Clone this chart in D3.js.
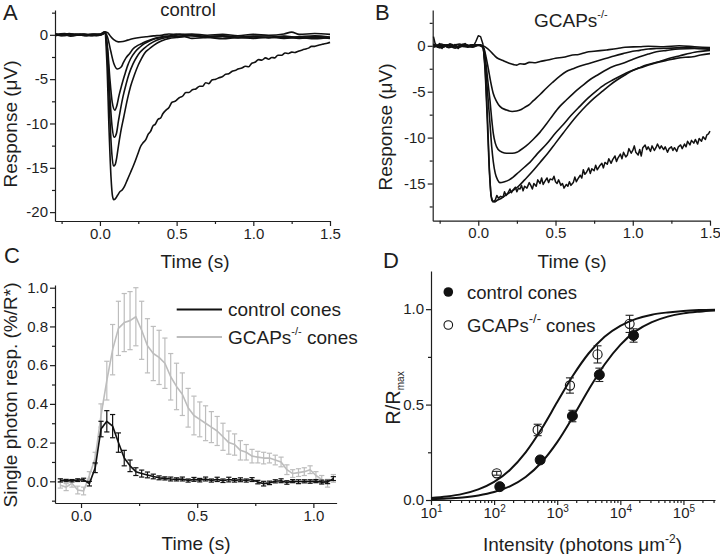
<!DOCTYPE html>
<html><head><meta charset="utf-8">
<script src="https://cdn.jsdelivr.net/npm/d3@7"></script>
<style>body{margin:0;background:#fff}svg{display:block}</style>
</head><body>
<svg id="c" width="720" height="554"></svg>
<script>
// ---------- Panel A: control traces [time s, response µV] ----------
const traceA1 = [[-0.29,0.1],[-0.25,-0.1],[-0.2,0.15],[-0.15,-0.05],[-0.1,0.1],[-0.05,-0.1],[0,0.05],[0.03,0.35],[0.05,0.25],[0.07,-0.2],[0.09,-0.55],[0.12,-0.8],[0.15,-0.75],[0.18,-0.6],[0.22,-0.42],[0.26,-0.3],[0.3,-0.22],[0.35,-0.12],[0.4,-0.05],[0.45,0.1],[0.5,0.0],[0.6,0.1],[0.7,-0.05],[0.8,0.05],[0.9,-0.1],[1.0,0.05],[1.1,-0.05],[1.2,0.1],[1.25,0.3],[1.3,0.05],[1.4,0.15],[1.5,0.05]];
const traceA2 = [[-0.29,-0.1],[-0.24,0.05],[-0.19,-0.15],[-0.14,0.05],[-0.09,-0.1],[-0.04,0.1],[0,0],[0.03,0.3],[0.05,-0.3],[0.07,-1.8],[0.09,-3.2],[0.115,-3.85],[0.14,-3.6],[0.151,-3.2],[0.17,-2.6],[0.194,-2.1],[0.215,-1.6],[0.237,-1.3],[0.27,-1.0],[0.3,-0.75],[0.34,-0.5],[0.388,-0.28],[0.45,-0.15],[0.5,-0.2],[0.6,-0.1],[0.7,-0.25],[0.8,-0.15],[0.9,-0.3],[1.0,-0.2],[1.1,-0.3],[1.2,-0.15],[1.3,-0.3],[1.4,-0.2],[1.5,-0.35]];
const traceA3 = [[-0.29,0.05],[-0.23,-0.1],[-0.18,0.1],[-0.12,-0.05],[-0.07,0.05],[-0.02,-0.1],[0.02,0.1],[0.035,0.2],[0.05,-1.5],[0.065,-5],[0.08,-7.6],[0.097,-8.5],[0.11,-8.0],[0.125,-6.8],[0.14,-5.8],[0.16,-4.6],[0.18,-3.5],[0.2,-2.7],[0.23,-1.9],[0.26,-1.4],[0.29,-1.0],[0.323,-0.7],[0.36,-0.45],[0.409,-0.26],[0.46,-0.1],[0.5,0.1],[0.55,-0.05],[0.6,0.0],[0.7,-0.2],[0.8,-0.1],[0.9,-0.25],[1.0,-0.15],[1.1,-0.1],[1.2,-0.3],[1.3,-0.2],[1.4,-0.1],[1.5,-0.25]];
const traceA4 = [[-0.29,0],[-0.22,0.1],[-0.17,-0.1],[-0.11,0.1],[-0.06,-0.1],[-0.01,0.05],[0.02,0.1],[0.035,0.2],[0.05,-2],[0.065,-7],[0.08,-10.5],[0.093,-11.55],[0.108,-11.1],[0.12,-9.8],[0.134,-8.4],[0.15,-7.0],[0.17,-5.6],[0.19,-4.4],[0.215,-3.3],[0.24,-2.5],[0.26,-2.0],[0.29,-1.5],[0.323,-1.05],[0.37,-0.6],[0.43,-0.3],[0.48,-0.15],[0.52,0.05],[0.6,-0.1],[0.7,-0.3],[0.8,-0.2],[0.9,-0.35],[1.0,-0.25],[1.1,-0.35],[1.2,-0.2],[1.3,-0.4],[1.4,-0.3],[1.5,-0.4]];
const traceA5 = [[-0.29,0.1],[-0.21,-0.05],[-0.16,0.1],[-0.1,-0.1],[-0.05,0.1],[0,-0.05],[0.02,0.1],[0.035,0.3],[0.05,-3],[0.065,-9.5],[0.078,-13.5],[0.088,-14.8],[0.1,-14.6],[0.11,-13.8],[0.12,-12.6],[0.135,-11.0],[0.155,-9.3],[0.18,-7.2],[0.2,-5.8],[0.225,-4.5],[0.25,-3.4],[0.27,-2.7],[0.29,-2.1],[0.32,-1.6],[0.355,-1.13],[0.4,-0.7],[0.452,-0.4],[0.5,-0.3],[0.55,-0.2],[0.6,-0.4],[0.7,-0.3],[0.8,-0.45],[0.9,-0.3],[1.0,-0.4],[1.1,-0.25],[1.2,-0.4],[1.3,-0.3],[1.4,-0.45],[1.5,-0.3]];
const traceA6 = [[-0.29,0],[-0.23,0.15],[-0.18,-0.05],[-0.13,0.1],[-0.08,-0.1],[-0.03,0.05],[0.01,0.1],[0.03,0.3],[0.045,-3],[0.06,-11],[0.072,-16],[0.082,-18.2],[0.09,-18.6],[0.1,-18.5],[0.115,-18.1],[0.13,-17.7],[0.145,-17.5],[0.16,-17.1],[0.18,-16.3],[0.2,-15.5],[0.216,-14.85],[0.235,-14.0],[0.25,-13.3],[0.265,-12.6],[0.28,-12.2],[0.3,-11.8],[0.315,-11.2],[0.33,-10.9],[0.345,-10.3],[0.36,-10.1],[0.38,-9.5],[0.395,-9.4],[0.41,-8.9],[0.431,-8.5],[0.45,-8.2],[0.47,-7.6],[0.49,-7.5],[0.517,-7.1],[0.54,-6.9],[0.56,-6.5],[0.58,-6.5],[0.603,-6.2],[0.625,-6.1],[0.65,-5.8],[0.67,-5.8],[0.69,-5.4],[0.71,-5.5],[0.73,-5.1],[0.755,-5.0],[0.776,-4.85],[0.8,-4.7],[0.82,-4.45],[0.84,-4.4],[0.862,-4.1],[0.885,-4.0],[0.9,-3.85],[0.925,-3.75],[0.948,-3.55],[0.97,-3.6],[0.99,-3.2],[1.01,-3.1],[1.034,-2.8],[1.055,-2.85],[1.08,-2.6],[1.1,-2.75],[1.12,-2.55],[1.14,-2.6],[1.16,-2.3],[1.185,-2.3],[1.207,-2.05],[1.23,-2.1],[1.25,-1.95],[1.27,-2.0],[1.293,-1.85],[1.32,-1.7],[1.34,-1.6],[1.36,-1.5],[1.379,-1.3],[1.4,-1.3],[1.43,-1.15],[1.455,-1.05],[1.482,-0.95],[1.5,-0.85]];

// ---------- Panel B: GCAPs-/- traces ----------
const traceB1 = [[-0.29,0.2],[-0.25,-0.2],[-0.2,0.1],[-0.15,-0.25],[-0.1,0.15],[-0.05,-0.1],[0,0.1],[0.03,0],[0.06,-0.3],[0.09,-0.8],[0.12,-1.3],[0.16,-1.6],[0.2,-1.9],[0.23,-2.05],[0.25,-2.1],[0.27,-1.95],[0.3,-2.0],[0.33,-1.8],[0.37,-1.85],[0.4,-1.7],[0.45,-1.55],[0.5,-1.35],[0.55,-1.25],[0.61,-1.0],[0.65,-0.95],[0.7,-0.7],[0.75,-0.6],[0.83,-0.45],[0.9,-0.3],[0.95,-0.15],[1.045,-0.1],[1.1,-0.05],[1.2,-0.1],[1.3,0.0],[1.4,-0.1],[1.5,-0.2]];
const traceB2 = [[-0.29,-0.1],[-0.24,0.2],[-0.19,-0.2],[-0.14,0.15],[-0.09,-0.1],[-0.04,0.1],[0.01,0.05],[0.035,-0.2],[0.05,-1.2],[0.065,-2.5],[0.08,-3.9],[0.097,-5.2],[0.12,-6.1],[0.14,-6.6],[0.183,-7.0],[0.22,-7.15],[0.248,-7.1],[0.27,-7.0],[0.3,-6.7],[0.33,-6.4],[0.355,-6.0],[0.4,-5.3],[0.442,-4.6],[0.48,-4.0],[0.528,-3.3],[0.57,-2.8],[0.614,-2.5],[0.66,-2.2],[0.722,-1.9],[0.78,-1.6],[0.83,-1.35],[0.88,-1.1],[0.937,-0.85],[1.0,-0.6],[1.045,-0.5],[1.1,-0.35],[1.153,-0.3],[1.25,-0.25],[1.35,-0.2],[1.45,-0.3],[1.5,-0.3]];
const traceB3 = [[-0.29,0.1],[-0.23,-0.15],[-0.18,0.2],[-0.13,-0.2],[-0.08,0.1],[-0.03,-0.1],[0.01,0.1],[0.035,-0.3],[0.05,-2],[0.063,-4],[0.076,-6],[0.087,-8],[0.097,-9.5],[0.11,-10.6],[0.129,-11.3],[0.155,-11.6],[0.183,-11.7],[0.22,-11.7],[0.25,-11.6],[0.269,-11.4],[0.31,-10.9],[0.355,-10.2],[0.4,-9.4],[0.442,-8.5],[0.485,-7.5],[0.528,-6.6],[0.57,-5.9],[0.614,-5.2],[0.67,-4.4],[0.722,-3.7],[0.78,-3.1],[0.83,-2.6],[0.88,-2.2],[0.937,-1.9],[0.99,-1.55],[1.045,-1.2],[1.1,-0.9],[1.153,-0.65],[1.22,-0.5],[1.3,-0.35],[1.4,-0.3],[1.5,-0.4]];
const traceB4 = [[-0.29,-0.15],[-0.22,0.1],[-0.17,-0.1],[-0.12,0.2],[-0.07,-0.15],[-0.02,0.1],[0.01,0.05],[0.03,-0.2],[0.045,-2],[0.06,-5],[0.076,-8.5],[0.087,-11],[0.097,-12.6],[0.11,-13.9],[0.125,-14.6],[0.14,-14.9],[0.17,-14.8],[0.2,-14.6],[0.226,-14.3],[0.26,-13.8],[0.3,-13.2],[0.334,-12.7],[0.38,-11.8],[0.442,-10.7],[0.5,-9.5],[0.549,-8.6],[0.6,-7.6],[0.657,-6.6],[0.71,-5.7],[0.765,-4.9],[0.82,-4.2],[0.873,-3.7],[0.93,-3.2],[0.98,-2.8],[1.04,-2.4],[1.088,-2.1],[1.13,-1.9],[1.174,-1.7],[1.25,-1.3],[1.3,-1.1],[1.4,-0.7],[1.5,-0.5]];
const traceB5 = [[-0.29,0.1],[-0.24,-0.2],[-0.19,0.1],[-0.14,-0.1],[-0.09,0.2],[-0.04,-0.15],[0.0,0.1],[0.03,-0.1],[0.045,-3],[0.058,-8],[0.07,-13],[0.08,-15.8],[0.09,-16.9],[0.105,-17.0],[0.125,-16.8],[0.15,-16.6],[0.183,-16.2],[0.22,-15.8],[0.26,-15.3],[0.3,-14.6],[0.35,-13.7],[0.4,-12.7],[0.45,-11.7],[0.5,-10.6],[0.55,-9.5],[0.6,-8.4],[0.65,-7.4],[0.7,-6.5],[0.75,-5.7],[0.8,-5.0],[0.85,-4.3],[0.9,-3.7],[0.958,-3.1],[1.0,-2.7],[1.066,-2.3],[1.12,-2.0],[1.174,-1.75],[1.23,-1.55],[1.281,-1.37],[1.34,-1.25],[1.389,-1.2],[1.44,-1.0],[1.5,-0.85]];
const traceB6 = [[-0.29,1.0],[-0.28,0.3],[-0.265,-0.1],[-0.25,0.25],[-0.235,-0.3],[-0.22,0.1],[-0.2,-0.15],[-0.185,0.2],[-0.165,-0.05],[-0.15,0.15],[-0.13,-0.3],[-0.115,0.1],[-0.1,-0.05],[-0.085,0.25],[-0.065,-0.1],[-0.05,0.1],[-0.03,0.0],[-0.015,0.5],[0.0,1.1],[0.015,1.0],[0.03,0.2],[0.045,-2.5],[0.06,-8],[0.072,-13.5],[0.082,-16.3],[0.095,-17.0],[0.11,-16.8],[0.12,-16.3],[0.13,-16.6],[0.145,-16.4],[0.16,-16.5],[0.17,-15.9],[0.18,-16.3],[0.19,-16.1],[0.205,-15.6],[0.215,-16.0],[0.225,-15.7],[0.24,-15.4],[0.25,-15.9],[0.26,-15.5],[0.27,-15.6],[0.28,-15.2],[0.29,-15.8],[0.3,-15.3],[0.315,-15.5],[0.33,-14.9],[0.34,-15.2],[0.35,-15.6],[0.36,-15.0],[0.375,-15.3],[0.385,-14.6],[0.4,-15.0],[0.41,-14.4],[0.42,-15.1],[0.43,-14.8],[0.445,-14.4],[0.455,-14.9],[0.465,-14.5],[0.48,-14.6],[0.49,-14.2],[0.5,-14.8],[0.51,-15.0],[0.52,-14.6],[0.535,-15.2],[0.545,-15.0],[0.555,-15.5],[0.57,-15.1],[0.58,-15.3],[0.59,-14.8],[0.6,-15.2],[0.615,-14.9],[0.625,-14.3],[0.635,-14.8],[0.645,-14.5],[0.66,-14.1],[0.67,-14.4],[0.68,-13.5],[0.69,-14.0],[0.7,-13.8],[0.715,-13.3],[0.725,-13.9],[0.735,-13.4],[0.75,-13.6],[0.76,-13.0],[0.77,-13.5],[0.785,-13.1],[0.8,-12.8],[0.81,-13.3],[0.82,-12.7],[0.835,-12.9],[0.845,-12.3],[0.86,-12.8],[0.87,-12.4],[0.885,-12.0],[0.895,-12.6],[0.905,-12.2],[0.92,-11.8],[0.93,-12.3],[0.94,-11.6],[0.955,-12.1],[0.965,-11.9],[0.975,-11.2],[0.99,-11.7],[1.0,-11.4],[1.01,-10.9],[1.02,-11.6],[1.035,-11.9],[1.045,-11.3],[1.055,-12.0],[1.065,-11.1],[1.08,-10.8],[1.09,-11.3],[1.1,-11.0],[1.115,-11.5],[1.125,-10.9],[1.14,-11.4],[1.15,-11.1],[1.16,-10.7],[1.175,-11.2],[1.185,-10.9],[1.2,-11.3],[1.21,-11.0],[1.225,-11.6],[1.235,-11.2],[1.25,-11.0],[1.26,-11.4],[1.27,-11.1],[1.285,-11.5],[1.295,-11.0],[1.31,-10.8],[1.32,-11.2],[1.335,-10.7],[1.345,-11.0],[1.355,-10.4],[1.37,-10.8],[1.38,-10.3],[1.395,-10.6],[1.405,-10.2],[1.42,-10.7],[1.43,-10.1],[1.445,-10.4],[1.455,-9.9],[1.47,-10.2],[1.48,-9.7],[1.49,-9.6],[1.5,-9.3]];

// ---------- Panel C: single photon responses ----------
const cTime = [-0.089,-0.064,-0.039,-0.014,0.011,0.036,0.061,0.086,0.111,0.136,0.161,0.186,0.211,0.236,0.261,0.286,0.311,0.336,0.361,0.386,0.411,0.436,0.461,0.486,0.511,0.536,0.561,0.586,0.611,0.636,0.661,0.686,0.711,0.736,0.761,0.786,0.811,0.836,0.861,0.886,0.911,0.936,0.961,0.986,1.011,1.036,1.061,1.086];
const controlMean = [0.005,0.004,0.003,0.006,0.008,-0.012,0.07,0.27,0.31,0.285,0.20,0.12,0.08,0.05,0.04,0.033,0.025,0.018,0.015,0.012,0.01,0.012,0.004,0.01,0.006,0.012,0.004,0.01,0.003,0.009,0.005,0.008,0.004,0.009,-0.004,-0.012,-0.008,0.0,0.003,-0.006,0.001,-0.002,0.0,-0.001,0.001,-0.004,-0.003,0.014];
const controlErr = [0.008,0.006,0.006,0.007,0.008,0.012,0.025,0.04,0.055,0.06,0.05,0.04,0.03,0.02,0.018,0.015,0.012,0.01,0.008,0.01,0.008,0.01,0.008,0.01,0.009,0.01,0.008,0.011,0.009,0.012,0.009,0.01,0.008,0.01,0.009,0.012,0.009,0.008,0.01,0.009,0.008,0.01,0.008,0.009,0.008,0.01,0.009,0.01];
const gcapsMean = [-0.02,-0.03,-0.01,-0.045,-0.05,0.03,0.12,0.34,0.52,0.68,0.79,0.82,0.83,0.85,0.78,0.70,0.66,0.64,0.61,0.54,0.49,0.45,0.38,0.34,0.32,0.30,0.28,0.26,0.23,0.20,0.19,0.16,0.15,0.13,0.125,0.12,0.12,0.11,0.10,0.06,0.04,0.045,0.05,0.06,0.03,0.01,-0.01,0.015];
const gcapsErr = [0.015,0.018,0.02,0.02,0.02,0.02,0.03,0.06,0.10,0.13,0.14,0.15,0.15,0.15,0.15,0.14,0.14,0.14,0.13,0.12,0.12,0.11,0.10,0.10,0.09,0.09,0.08,0.075,0.07,0.06,0.055,0.05,0.04,0.035,0.03,0.03,0.025,0.025,0.025,0.025,0.02,0.02,0.02,0.02,0.02,0.02,0.02,0.02];

// ---------- Panel D: intensity-response ----------
const controlI = [123, 537, 1740, 4650, 16200];
const controlR = [0.07, 0.21, 0.44, 0.656, 0.862];
const controlE = [0.012, 0.018, 0.03, 0.035, 0.035];
const gcapsI = [110, 490, 1590, 4350, 14000];
const gcapsR = [0.14, 0.367, 0.60, 0.763, 0.923];
const gcapsE = [0.01, 0.03, 0.04, 0.045, 0.045];
const fitLog10I = [1,1.25,1.5,1.75,2,2.25,2.5,2.75,3,3.25,3.5,3.75,4,4.25,4.5,4.75,5,5.25,5.5];
const fitControl = [0.0043,0.0077,0.0136,0.0239,0.0417,0.0718,0.1209,0.1965,0.303,0.436,0.579,0.710,0.813,0.886,0.932,0.961,0.978,0.987,0.993];
const fitGcaps = [0.0104,0.0184,0.0322,0.0559,0.0952,0.1577,0.2497,0.3718,0.513,0.652,0.769,0.856,0.913,0.949,0.971,0.983,0.991,0.995,0.997];

// tick labels
const timeTicksAB = [0, 0.5, 1.0, 1.5];
const respTicksA = [0, -5, -10, -15, -20];
const respTicksB = [0, -5, -10, -15];
const timeTicksC = [0, 0.5, 1.0];
const spTicksC = [0, 0.2, 0.4, 0.6, 0.8, 1.0];
const rTicksD = [0, 0.5, 1.0];
const iExpD = [1, 2, 3, 4, 5];

// ================= drawing =================
const FONT = "'Liberation Sans', Arial, Helvetica, sans-serif";
const INK = "#1e1e1e";
const svg = d3.select("#c");
svg.append("rect").attr("width",720).attr("height",554).attr("fill","#fff");

function txt(x, y, s, size, anchor, rot) {
  const t = svg.append("text").attr("font-family",FONT).attr("font-size",size).attr("fill",INK)
    .attr("font-weight","normal").attr("text-anchor",anchor||"start");
  if (rot) t.attr("transform",`translate(${x},${y}) rotate(-90)`); else t.attr("x",x).attr("y",y);
  if (s !== null) t.text(s);
  return t;
}

function styleAxis(g) {
  g.attr("font-family",null).attr("font-size",null);
  g.selectAll("path,line").attr("stroke",INK).attr("stroke-width",1.2);
  g.selectAll("text").attr("font-family",FONT).attr("font-size",15).attr("fill",INK);
}

function axes(x, y, c) {
  const yb = y.range()[0], xl = x.range()[0];
  const gx = svg.append("g").attr("transform",`translate(0,${yb})`)
    .call(d3.axisBottom(x).tickValues(c.xMajor).tickSize(5).tickSizeOuter(0).tickPadding(2).tickFormat(c.xFmt));
  styleAxis(gx);
  const gxm = svg.append("g").attr("transform",`translate(0,${yb})`)
    .call(d3.axisBottom(x).tickValues(c.xMinor).tickSize(3).tickSizeOuter(0).tickFormat(""));
  gxm.select(".domain").remove(); styleAxis(gxm);
  const gy = svg.append("g").attr("transform",`translate(${xl},0)`)
    .call(d3.axisLeft(y).tickValues(c.yMajor).tickSize(5).tickSizeOuter(0).tickPadding(2).tickFormat(c.yFmt));
  styleAxis(gy);
  const gym = svg.append("g").attr("transform",`translate(${xl},0)`)
    .call(d3.axisLeft(y).tickValues(c.yMinor).tickSize(3).tickSizeOuter(0).tickFormat(""));
  gym.select(".domain").remove(); styleAxis(gym);
  return gx;
}
const f1 = d3.format(".1f");
const fint = d => String(d);

// ----- Panel A -----
const xA = d3.scaleLinear([-0.293, 1.5], [55, 330]);
const yA = d3.scaleLinear([-21, 2.8], [221, 10]);
axes(xA, yA, {xMajor:timeTicksAB, xMinor:[-0.25,0.25,0.75,1.25], xFmt:f1,
  yMajor:respTicksA, yMinor:[2.5,-2.5,-7.5,-12.5,-17.5], yFmt:fint});
const lineA = d3.line().x(d=>xA(d[0])).y(d=>yA(d[1])).curve(d3.curveMonotoneX);
[traceA1,traceA2,traceA3,traceA4,traceA5,traceA6].forEach(tr => {
  svg.append("path").attr("d",lineA(tr)).attr("fill","none").attr("stroke","#111").attr("stroke-width",1.6).attr("stroke-linejoin","round");
});
txt(3, 20, "A", 22);
txt(188, 16, "control", 18.5, "middle");
txt(17, 124, "Response (\u03bcV)", 19, "middle", true);
txt(195, 268, "Time (s)", 19, "middle");

// ----- Panel B -----
const xB = d3.scaleLinear([-0.295, 1.5], [432.7, 710]);
const yB = d3.scaleLinear([-19.05, 3.9], [220.7, 10]);
axes(xB, yB, {xMajor:timeTicksAB, xMinor:[-0.25,0.25,0.75,1.25], xFmt:f1,
  yMajor:respTicksB, yMinor:[2.5,-2.5,-7.5,-12.5,-17.5], yFmt:fint});
const lineB = d3.line().x(d=>xB(d[0])).y(d=>yB(d[1])).curve(d3.curveMonotoneX);
const lineBn = d3.line().x(d=>xB(d[0])).y(d=>yB(d[1]));
[traceB1,traceB2,traceB3,traceB4,traceB5].forEach(tr => {
  svg.append("path").attr("d",lineB(tr)).attr("fill","none").attr("stroke","#111").attr("stroke-width",1.6).attr("stroke-linejoin","round");
});
svg.append("path").attr("d",lineBn(traceB6)).attr("fill","none").attr("stroke","#111").attr("stroke-width",1.5).attr("stroke-linejoin","round");
txt(375, 20, "B", 22);
const tB = txt(534, 27, null, 19, "start");
tB.append("tspan").text("GCAPs");
tB.append("tspan").attr("font-size",11).attr("dy",-9).text("-/-");
txt(392, 127, "Response (\u03bcV)", 19, "middle", true);
txt(572, 268, "Time (s)", 19, "middle");

// ----- Panel C -----
const xC = d3.scaleLinear([-0.112, 1.1], [55, 336.6]);
const yC = d3.scaleLinear([-0.112, 1.014], [503, 285]);
axes(xC, yC, {xMajor:timeTicksC, xMinor:[0.25,0.75], xFmt:f1,
  yMajor:spTicksC, yMinor:[-0.1,0.1,0.3,0.5,0.7,0.9], yFmt:f1});
function seriesC(mean, err, color, w) {
  const pts = cTime.map((t,i)=>[t, mean[i], err[i]]);
  const g = svg.append("g").attr("stroke",color).attr("fill","none");
  pts.forEach(p => {
    const x = xC(p[0]), y1 = yC(p[1]-p[2]), y2 = yC(p[1]+p[2]);
    g.append("line").attr("x1",x).attr("x2",x).attr("y1",y1).attr("y2",y2).attr("stroke-width",1.2);
    g.append("line").attr("x1",x-2.6).attr("x2",x+2.6).attr("y1",y1).attr("y2",y1).attr("stroke-width",1.2);
    g.append("line").attr("x1",x-2.6).attr("x2",x+2.6).attr("y1",y2).attr("y2",y2).attr("stroke-width",1.2);
  });
  g.append("path").attr("d",d3.line().x(d=>xC(d[0])).y(d=>yC(d[1]))(pts)).attr("stroke-width",w).attr("stroke-linejoin","round");
}
seriesC(gcapsMean, gcapsErr, "#bdbdbd", 1.6);
seriesC(controlMean, controlErr, "#111", 1.6);
svg.append("line").attr("x1",176.7).attr("x2",222).attr("y1",309.5).attr("y2",309.5).attr("stroke","#111").attr("stroke-width",2);
svg.append("line").attr("x1",176.7).attr("x2",222).attr("y1",337).attr("y2",337).attr("stroke","#bdbdbd").attr("stroke-width",2);
txt(228, 316, "control cones", 19);
const tC = txt(228, 344, null, 19);
tC.append("tspan").text("GCAPs");
tC.append("tspan").attr("font-size",11).attr("dy",-9).text("-/-");
tC.append("tspan").attr("dy",9).text(" cones");
txt(4, 263, "C", 22);
txt(17, 395, "Single photon resp. (%/R*)", 19, "middle", true);
txt(196, 550, "Time (s)", 19, "middle");

// ----- Panel D -----
const xD = d3.scaleLog([10, 316228], [431, 715]);
const yD = d3.scaleLinear([0, 1.2], [500, 271]);
const minorD = [];
iExpD.forEach(e => { for (let k=2;k<=9;k++){ const v=k*Math.pow(10,e); if (v<316228) minorD.push(v);} });
const gxD = axes(xD, yD, {xMajor:iExpD.map(e=>Math.pow(10,e)), xMinor:minorD, xFmt:d=>"",
  yMajor:rTicksD, yMinor:[0.25,0.75], yFmt:f1});
gxD.selectAll(".tick text").each(function(d){
  const t = d3.select(this); t.text(null);
  t.append("tspan").text("10");
  t.append("tspan").attr("font-size",10).attr("dy","-0.55em").text(String(Math.round(Math.log10(d))));
});
const fitLine = d3.line().x(d=>xD(Math.pow(10,d[0]))).y(d=>yD(d[1])).curve(d3.curveMonotoneX);
svg.append("path").attr("d",fitLine(fitLog10I.map((l,i)=>[l,fitControl[i]]))).attr("fill","none").attr("stroke","#111").attr("stroke-width",2);
svg.append("path").attr("d",fitLine(fitLog10I.map((l,i)=>[l,fitGcaps[i]]))).attr("fill","none").attr("stroke","#111").attr("stroke-width",2);
function pointsD(I, R, E, filled) {
  const g = svg.append("g");
  I.forEach((v,i) => {
    const x = xD(v), y = yD(R[i]), y1 = yD(R[i]-E[i]), y2 = yD(R[i]+E[i]);
    g.append("line").attr("x1",x).attr("x2",x).attr("y1",y1).attr("y2",y2).attr("stroke","#222").attr("stroke-width",1.1);
    [y1,y2].forEach(yy => g.append("line").attr("x1",x-4).attr("x2",x+4).attr("y1",yy).attr("y2",yy).attr("stroke","#222").attr("stroke-width",1.1));
    g.append("circle").attr("cx",x).attr("cy",y).attr("r",filled?5:4.6)
      .attr("fill",filled?"#111":"none").attr("stroke","#111").attr("stroke-width",filled?1:1.1);
  });
}
pointsD(gcapsI, gcapsR, gcapsE, false);
pointsD(controlI, controlR, controlE, true);
svg.append("circle").attr("cx",448.3).attr("cy",292).attr("r",4.8).attr("fill","#111");
svg.append("circle").attr("cx",448.3).attr("cy",325).attr("r",4.3).attr("fill","none").attr("stroke","#111").attr("stroke-width",1.1);
txt(467, 299, "control cones", 18.5);
const tD = txt(467, 332, null, 18.5);
tD.append("tspan").text("GCAPs");
tD.append("tspan").attr("font-size",13).attr("dy",-9).text("-/-");
tD.append("tspan").attr("dy",9).text(" cones");
txt(383, 268, "D", 22);
const tDy = txt(400, 398, null, 20, "middle", true);
tDy.append("tspan").text("R/R");
tDy.append("tspan").attr("font-size",10).attr("dy",4).text("max");
const tDx = txt(483, 551, null, 19, "start");
tDx.append("tspan").text("Intensity (photons \u03bcm");
tDx.append("tspan").attr("font-size",12).attr("dy",-8).text("-2");
tDx.append("tspan").attr("dy",8).text(")");
</script>
</body></html>
